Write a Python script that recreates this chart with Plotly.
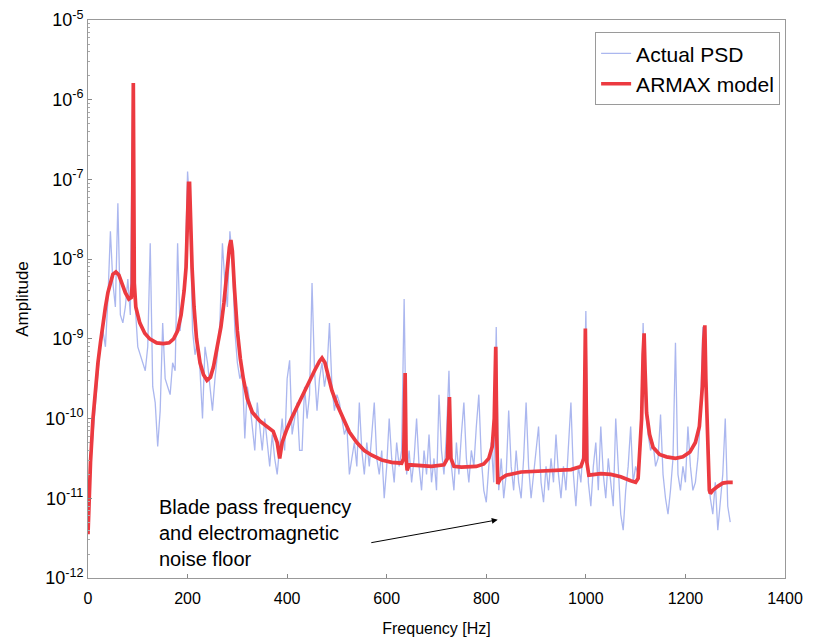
import plotly.graph_objects as go

# ---------------- data ----------------
# Actual PSD: frequency (Hz) and log10 amplitude
psd_freq = list(range(0, 1295, 5))
psd_log10 = [
    -11.2, -10.6, -10.2, -9.8, -9.5, -9.05, -8.9, -9.1, -8.5, -7.65,   # 0-45
    -8.3, -8.6, -7.3, -8.7, -8.8, -8.6, -8.25, -8.7, -5.8, -8.6,       # 50-95
    -9.1, -9.2, -9.3, -9.4, -9.1, -7.8, -9.6, -9.8, -10.35, -9.9,      # 100-145
    -8.8, -9.5, -9.6, -9.7, -9.3, -9.4, -7.8, -8.9, -8.5, -8.2,        # 150-195
    -6.9, -7.4, -8.9, -9.2, -9.0, -9.4, -10.0, -9.1, -9.3, -9.6,       # 200-245
    -9.9, -9.5, -9.2, -8.8, -7.8, -8.3, -8.6, -7.65, -8.0, -8.9,       # 250-295
    -9.3, -9.5, -9.4, -10.25, -9.6, -9.8, -10.1, -10.4, -9.8, -10.1,   # 300-345
    -10.4, -10.0, -10.3, -10.6, -10.2, -10.5, -10.7, -10.3, -10.0, -10.4,  # 350-395
    -9.5, -9.27, -10.2, -10.0, -9.8, -10.4, -10.4, -9.6, -10.0, -9.7,  # 400-445
    -8.3, -9.4, -9.9, -9.5, -9.3, -9.6, -9.4, -8.8, -9.6, -9.9,        # 450-495
    -9.7, -9.8, -10.0, -10.2, -10.1, -10.7, -10.5, -10.3, -10.6, -9.8, # 500-545
    -10.4, -10.7, -10.3, -10.6, -10.2, -9.8, -10.5, -10.7, -10.4, -11.0,  # 550-595
    -10.6, -10.0, -10.5, -10.8, -10.3, -10.6, -10.4, -8.5, -10.7, -10.4,  # 600-645
    -10.8, -10.5, -10.0, -10.6, -10.9, -10.4, -10.7, -10.2, -10.8, -10.5, # 650-695
    -10.9, -9.7, -10.4, -10.7, -10.2, -9.4, -10.6, -10.9, -10.3, -10.7,   # 700-745
    -10.2, -9.8, -10.5, -10.8, -10.4, -10.6, -10.1, -9.7, -10.5, -10.9,   # 750-795
    -11.05, -10.6, -10.3, -10.8, -8.85, -10.9, -10.5, -11.0, -10.7, -9.9, # 800-845
    -10.6, -10.9, -10.4, -10.8, -11.0, -10.5, -9.8, -10.6, -11.0, -10.7,  # 850-895
    -10.4, -10.1, -10.8, -11.05, -10.6, -10.9, -10.5, -10.8, -10.2, -10.7, # 900-945
    -11.0, -10.6, -10.9, -10.4, -9.8, -10.7, -11.1, -10.6, -10.8, -10.3,  # 950-995
    -8.65, -10.8, -11.1, -10.6, -10.3, -10.9, -10.1, -10.7, -11.0, -10.5, # 1000-1045
    -10.8, -11.1, -10.0, -10.7, -11.2, -11.4, -10.9, -10.6, -10.1, -10.8, # 1050-1095
    -10.6, -10.7, -10.3, -8.8, -9.9, -10.2, -10.4, -10.3, -10.6, -10.5,   # 1100-1145
    -9.95, -10.7, -11.0, -11.2, -10.9, -10.5, -9.05, -10.7, -10.9, -10.6, # 1150-1195
    -10.8, -10.1, -10.6, -10.9, -10.8, -10.5, -10.0, -8.85, -8.9, -10.6,  # 1200-1245
    -11.0, -11.2, -10.8, -11.4, -11.0, -10.7, -10.0, -11.1, -11.3,        # 1250-1290
]

# ARMAX model: frequency (Hz) and log10 amplitude
armax_freq = [
    0, 2, 5, 10, 15, 20, 25, 30, 35, 40, 45, 50, 56, 62, 68, 75, 82, 87, 89, 91, 93, 96,
    104, 114, 124, 138, 151, 163, 172, 180, 187, 193, 197, 200, 202, 204, 206, 209, 213,
    218, 225, 232, 239, 246, 252, 260, 267, 273, 279, 284, 287, 290, 294, 300, 306, 312,
    320, 330, 345, 360, 372, 380, 385, 390, 399, 410, 425, 440, 455, 465, 470, 476, 482,
    490, 500, 512, 525, 540, 555, 570, 590, 610, 630, 634, 637, 639, 641, 645, 660, 690,
    715, 722, 726, 729, 735, 750, 780, 795, 805, 812, 816, 819, 821, 823, 828, 840, 870,
    920, 970, 990, 996, 999, 1002, 1006, 1030, 1050, 1070, 1090, 1100, 1105, 1109, 1112,
    1115, 1117, 1119, 1122, 1128, 1135, 1148, 1162, 1180, 1195, 1209, 1220, 1228, 1234,
    1237, 1239, 1241, 1244, 1248, 1250, 1255, 1265, 1275, 1285, 1295,
]
armax_log10 = [
    -11.45, -11.0, -10.55, -10.0, -9.6, -9.3, -9.05, -8.8, -8.6, -8.42, -8.28, -8.19, -8.16,
    -8.2, -8.3, -8.42, -8.5, -8.48, -8.3, -5.79, -8.3, -8.6,
    -8.8, -8.93, -9.0, -9.05, -9.06, -9.05, -9.0, -8.9, -8.7, -8.4, -8.1, -7.6, -7.05, -7.05,
    -7.6, -8.1, -8.6,
    -9.0, -9.3, -9.45, -9.52, -9.48, -9.35, -9.1, -8.85, -8.55, -8.15, -7.85, -7.76, -7.9,
    -8.35, -8.9, -9.25, -9.5,
    -9.75, -9.92, -10.03, -10.1, -10.16, -10.3, -10.5, -10.3, -10.14, -9.98, -9.78, -9.6,
    -9.4, -9.28, -9.24, -9.3, -9.45,
    -9.65, -9.82, -10.0, -10.17, -10.3, -10.4, -10.46, -10.52, -10.55, -10.56, -10.5, -9.43,
    -10.5, -10.65, -10.58, -10.59, -10.6,
    -10.58, -10.5, -9.73, -10.5, -10.6, -10.61, -10.6, -10.57, -10.5, -10.35, -10.0, -9.1,
    -10.2, -10.82, -10.76, -10.71, -10.67,
    -10.66, -10.64, -10.6, -10.5, -8.87, -10.55, -10.71, -10.69, -10.7, -10.73, -10.78, -10.8,
    -10.75, -10.4, -10.0,
    -9.2, -8.93, -9.4, -9.93, -10.2, -10.36, -10.45, -10.48, -10.5, -10.48, -10.42, -10.3,
    -10.1, -9.6,
    -9.0, -8.83, -9.5, -10.3, -10.9, -10.94, -10.9, -10.85, -10.81, -10.8, -10.8,
]

x_tick_vals = [0, 200, 400, 600, 800, 1000, 1200, 1400]
y_tick_exps = [-12, -11, -10, -9, -8, -7, -6, -5]

psd_amp = [10 ** v for v in psd_log10]
armax_amp = [10 ** v for v in armax_log10]

FONT = "Liberation Sans, Arial, sans-serif"

fig = go.Figure()
fig.add_trace(go.Scatter(
    x=psd_freq, y=psd_amp, mode="lines", name="Actual PSD",
    line=dict(color="rgba(115,135,228,0.6)", width=1.3),
))
fig.add_trace(go.Scatter(
    x=armax_freq, y=armax_amp, mode="lines", name="ARMAX model",
    line=dict(color="rgb(236,58,64)", width=3.7),
))

fig.update_layout(
    width=816, height=643,
    margin=dict(l=88, r=31, t=20, b=65),
    paper_bgcolor="white", plot_bgcolor="white",
    font=dict(family=FONT, size=16, color="black"),
    showlegend=True,
    legend=dict(
        x=0.993, y=0.978, xanchor="right", yanchor="top",
        bgcolor="white", bordercolor="#9a9a9a", borderwidth=1,
        font=dict(family=FONT, size=21),
        tracegroupgap=0,
    ),
)

fig.update_xaxes(
    range=[0, 1400], tickvals=x_tick_vals,
    ticks="inside", ticklen=4, tickcolor="#888",
    ticklabelstandoff=6, automargin=False,
    showline=True, linecolor="#999", linewidth=1, mirror=True,
    showgrid=False, zeroline=False,
    tickfont=dict(family=FONT, size=16),
    title=dict(text="Frequency [Hz]", font=dict(family=FONT, size=16), standoff=16),
)
fig.update_yaxes(
    type="log", range=[-12, -5], automargin=False,
    tickvals=[10 ** e for e in y_tick_exps],
    ticktext=["10<sup>%d</sup>" % e for e in y_tick_exps],
    ticks="inside", ticklen=4, tickcolor="#888",
    minor=dict(ticks="inside", ticklen=2, tickcolor="#aaa", dtick="D1", showgrid=False),
    showline=True, linecolor="#999", linewidth=1, mirror=True,
    showgrid=False, zeroline=False,
    tickfont=dict(family=FONT, size=18),
    title=dict(text="Amplitude", font=dict(family=FONT, size=17), standoff=12),
)

# arrow
fig.add_annotation(
    x=823, y=-11.27, xref="x", yref="y",
    ax=566, ay=-11.56, axref="x", ayref="y",
    text="", showarrow=True, arrowhead=2, arrowsize=1.2, arrowwidth=1,
    arrowcolor="black",
)
fig.add_annotation(
    x=138, y=-11.44, xref="x", yref="y",
    text="Blade pass frequency<br>and electromagnetic<br>noise floor",
    showarrow=False, xanchor="left", yanchor="middle", align="left",
    font=dict(family=FONT, size=20, color="black"),
)

fig.write_html("out.html")
